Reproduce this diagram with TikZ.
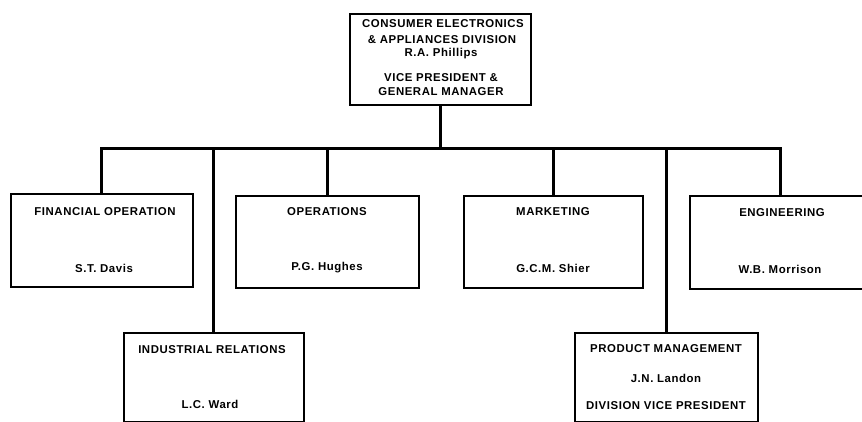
\documentclass[tikz,border=0pt]{standalone}
\usepackage{fontspec}
\setmainfont{Liberation Sans}[LetterSpace=5]
\begin{document}
\begin{tikzpicture}[x=1pt,y=-1pt,
  box/.style={draw=black,line width=1.6pt,fill=white,rectangle,inner sep=0pt,anchor=north west},
  conn/.style={draw=black,line width=3pt},
  lbl/.style={font=\fontsize{11.4}{13}\selectfont\bfseries,inner sep=0pt,anchor=center}]
\useasboundingbox (0,0) rectangle (862,422);

% the horizontal bus height
\coordinate (busL) at (100,149);

% boxes
\node[box,minimum width=181pt,minimum height=91pt] (top) at (349,13) {};
\node[box,minimum width=182pt,minimum height=93pt] (fin) at (10,193) {};
\node[box,minimum width=180pt,minimum height=89pt] (ind) at (123,332) {};
\node[box,minimum width=183pt,minimum height=92pt] (ops) at (235,195) {};
\node[box,minimum width=179pt,minimum height=92pt] (mkt) at (463,195) {};
\node[box,minimum width=183pt,minimum height=89pt] (pm) at (574,332) {};
\node[box,minimum width=182pt,minimum height=93pt] (eng) at (689,195) {};

% reporting lines
\draw[conn] (top.south) -- (top.south |- busL);
\draw[conn,line cap=rect] (fin.north) -- (fin.north |- busL) -- (eng.north |- busL) -- (eng.north);
\draw[conn] (ind.north) -- (ind.north |- busL);
\draw[conn] (ops.north) -- (ops.north |- busL);
\draw[conn] (mkt.north) -- (mkt.north |- busL);
\draw[conn] (pm.north) -- (pm.north |- busL);

% texts
\node[lbl] (t1) at (443,24) {CONSUMER ELECTRONICS};
\node[lbl] (t2) at (442,40) {\& APPLIANCES DIVISION};
\node[lbl] (t3) at (441,54) {R.A. Phillips};
\node[lbl] (t4) at (441,78) {VICE PRESIDENT \&};
\node[lbl] (t5) at (441,92) {GENERAL MANAGER};

\node[lbl] (f1) at (105,212) {FINANCIAL OPERATION};
\node[lbl] (f2) at (104,268) {S.T. Davis};

\node[lbl] (o1) at (327,212) {OPERATIONS};
\node[lbl] (o2) at (327,268) {P.G. Hughes};

\node[lbl] (m1) at (553,212) {MARKETING};
\node[lbl] (m2) at (553,268) {G.C.M. Shier};

\node[lbl] (e1) at (782,213) {ENGINEERING};
\node[lbl] (e2) at (780,269) {W.B. Morrison};

\node[lbl] (i1) at (212,350) {INDUSTRIAL RELATIONS};
\node[lbl] (i2) at (210,404) {L.C. Ward};

\node[lbl] (p1) at (666,349) {PRODUCT MANAGEMENT};
\node[lbl] (p2) at (666,378) {J.N. Landon};
\node[lbl] (p3) at (666,406) {DIVISION VICE PRESIDENT};
\end{tikzpicture}
\end{document}
